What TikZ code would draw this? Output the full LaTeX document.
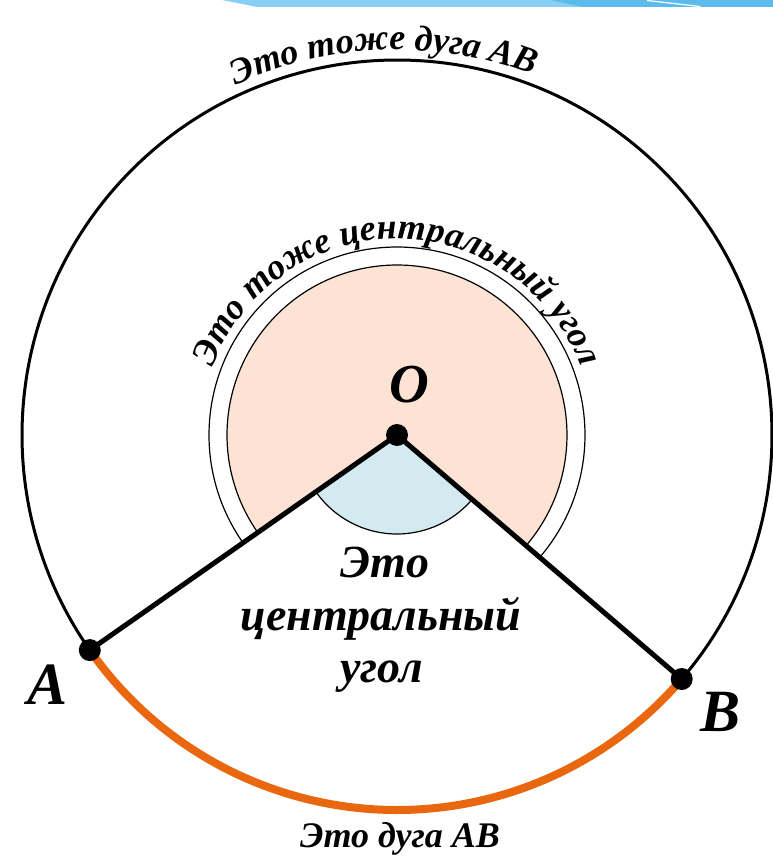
\documentclass[tikz,border=0pt]{standalone}
\usepackage{fontspec}
\setmainfont{Liberation Serif}
\usetikzlibrary{decorations.text,backgrounds}
\definecolor{peach}{HTML}{FCE3D3}
\definecolor{skyfill}{HTML}{D3EAF1}
\definecolor{arcorange}{HTML}{E8670F}
\definecolor{bandlight}{HTML}{88CFF4}
\definecolor{banddark}{HTML}{5BBCEC}
\begin{document}
\begin{tikzpicture}[x=1pt,y=1pt,
  dot/.style={circle,fill=black,inner sep=0pt,minimum size=22pt},
  ray/.style={line width=5pt},
  thinarc/.style={line width=1.2pt},
  bigarc/.style={line width=3pt},
  orangearc/.style={arcorange,line width=8pt},
  lbl/.style={font=\fontsize{60}{60}\selectfont\bfseries\itshape},
  olbl/.style={font=\fontsize{55}{55}\selectfont\bfseries\itshape},
  midtxt/.style={anchor=base,font=\fontsize{46}{46}\selectfont\bfseries\itshape},
  bottxt/.style={anchor=base,font=\fontsize{36}{36}\selectfont\bfseries\itshape}]
\useasboundingbox (-397,-424) rectangle (376,435);
% points
\node[dot] (O) at (0,0) {};
\node[dot] (A) at (215:375) {};
\node[dot] (B) at (319.4:375) {};
\begin{pgfonlayer}{background}
  % top band
  \fill[bandlight] (-175,435) -- (376,435) -- (376,428) -- (-140,428) -- cycle;
  \fill[banddark] (153,435) -- (376,435) -- (376,428) -- (186,428) -- cycle;
  \draw[white,line width=1.2pt] (250,434.5) -- (303,428.5);
  % reflex angle
  \fill[peach] (O.center) -- (319.4:170) arc[start angle=319.4,end angle=575,radius=170] -- cycle;
  \draw[thinarc] (319.4:170) arc[start angle=319.4,end angle=575,radius=170];
  \draw[thinarc] (319.4:188) arc[start angle=319.4,end angle=575,radius=188];
  % central angle
  \fill[skyfill] (O.center) -- (215:99) arc[start angle=215,end angle=319.4,radius=99] -- cycle;
  \draw[thinarc] (215:99) arc[start angle=215,end angle=319.4,radius=99];
  % circle arcs
  \draw[bigarc] (B.center) arc[start angle=319.4,end angle=575,radius=375];
  \draw[orangearc] (A.center) arc[start angle=215,end angle=319.4,radius=375];
  % rays
  \draw[ray] (O.center) -- (A.center);
  \draw[ray] (O.center) -- (B.center);
\end{pgfonlayer}
% labels
\node[olbl] (Olab) at (12,50) {O};
\node[lbl] (Alab) at (-349,-250) {A};
\node[lbl] (Blab) at (324,-277) {B};
\node[midtxt] (t1) at (-12,-142) {Это};
\node[midtxt] (t2) at (-16,-195) {центральный};
\node[midtxt] (t3) at (-15,-247) {угол};
\node[bottxt] (bot) at (3,-412) {Это дуга AB};
% curved texts
\path[decorate,decoration={text along path,text align=center,
  text={|\fontsize{36}{36}\selectfont\bfseries\itshape|Это тоже дуга AB}}]
  (165:385) arc[start angle=165,end angle=19,radius=385];
\path[decorate,decoration={text along path,text align=center,
  text={|\fontsize{36}{36}\selectfont\bfseries\itshape|Это тоже центральный угол}}]
  (170:196) arc[start angle=170,end angle=10,radius=196];
\end{tikzpicture}
\end{document}
